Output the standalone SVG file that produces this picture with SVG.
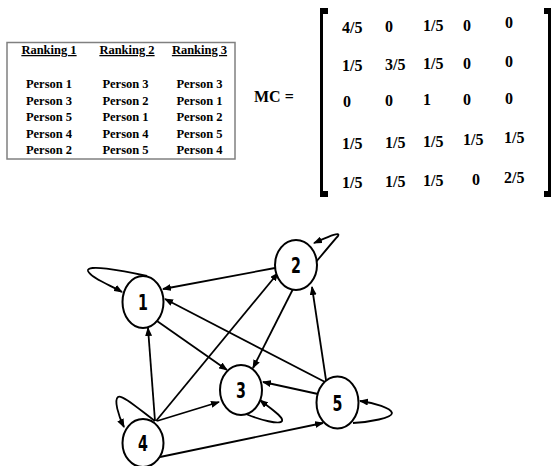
<svg xmlns="http://www.w3.org/2000/svg" width="551" height="466" viewBox="0 0 551 466">
<style>
.t{font-family:"Liberation Serif","Times New Roman",serif;font-weight:bold;font-size:12.5px;fill:#000}
.h{text-decoration:underline}
.m{font-family:"Liberation Serif","Times New Roman",serif;font-weight:bold;font-size:16px;fill:#000}
.n{fill:#fff;stroke:#000;stroke-width:2}
.l{font-family:"DejaVu Sans Condensed","DejaVu Sans",sans-serif;font-weight:bold;font-size:22px;text-anchor:middle;fill:#000}
.e{fill:none;stroke:#000;stroke-width:1.8}
</style>
<defs>
<marker id="a" markerUnits="userSpaceOnUse" markerWidth="9" markerHeight="7" refX="8" refY="3.5" orient="auto">
<path d="M0,0 L9,3.5 L0,7 z" fill="#000"/>
</marker>
</defs>
<g id="table">
<rect x="7" y="42.5" width="228" height="116.5" fill="#fff" stroke="#808080" stroke-width="1.5"/>
<g class="t" text-anchor="middle">
<text class="h" x="49" y="54">Ranking 1</text>
<text class="h" x="127" y="54">Ranking 2</text>
<text class="h" x="199.5" y="54">Ranking 3</text>
<text x="49" y="88">Person 1</text>
<text x="49" y="104.5">Person 3</text>
<text x="49" y="121">Person 5</text>
<text x="49" y="137.5">Person 4</text>
<text x="49" y="154">Person 2</text>
<text x="125.5" y="88">Person 3</text>
<text x="125.5" y="104.5">Person 2</text>
<text x="125.5" y="121">Person 1</text>
<text x="125.5" y="137.5">Person 4</text>
<text x="125.5" y="154">Person 5</text>
<text x="199.5" y="88">Person 3</text>
<text x="199.5" y="104.5">Person 1</text>
<text x="199.5" y="121">Person 2</text>
<text x="199.5" y="137.5">Person 5</text>
<text x="199.5" y="154">Person 4</text>
</g>
</g>
<g id="matrix">
<text class="m" x="254" y="102">MC =</text>
<path d="M320,8 h8 v6 h-5 v177 h5 v6 h-8 z" fill="#000"/>
<path d="M551,8 h-7 v6 h4 v177 h-4 v6 h7 z" fill="#000"/>
<g class="m">
<text x="342" y="33">4/5</text><text x="385" y="32">0</text><text x="423" y="31">1/5</text><text x="463" y="31">0</text><text x="505" y="28">0</text>
<text x="342" y="71">1/5</text><text x="385" y="70">3/5</text><text x="423" y="69">1/5</text><text x="463" y="69">0</text><text x="505" y="67">0</text>
<text x="343" y="107">0</text><text x="385" y="106">0</text><text x="423" y="105">1</text><text x="463" y="105">0</text><text x="505" y="104">0</text>
<text x="342" y="149">1/5</text><text x="385" y="148">1/5</text><text x="423" y="147">1/5</text><text x="463" y="145">1/5</text><text x="504" y="143">1/5</text>
<text x="342" y="188">1/5</text><text x="385" y="187">1/5</text><text x="423" y="186">1/5</text><text x="472" y="185">0</text><text x="504" y="183">2/5</text>
</g>
</g>
<g id="connectors">
<path class="e" marker-end="url(#a)" d="M275,268 L163,289"/>
<path class="e" marker-end="url(#a)" d="M327,383 L165,299"/>
<path class="e" marker-end="url(#a)" d="M155,421 L148,328"/>
<path class="e" marker-end="url(#a)" d="M157,321 L227,370"/>
<path class="e" marker-end="url(#a)" d="M293,289 L253,368"/>
<path class="e" marker-end="url(#a)" d="M156,421 L278,273"/>
<path class="e" marker-end="url(#a)" d="M157,421 L219,402"/>
<path class="e" marker-end="url(#a)" d="M160,457 L323,423"/>
<path class="e" marker-end="url(#a)" d="M318,394 L263,382"/>
<path class="e" marker-end="url(#a)" d="M326,380 L312,287"/>
<path class="e" marker-end="url(#a)" d="M147,276 C120,270 86,264 88,271 C91,278 110,285 122,292"/>
<path class="e" marker-end="url(#a)" d="M316,262 C326,250 336,238 338,236 C341,231 328,237 314,243"/>
<path class="e" marker-end="url(#a)" d="M246,414 C260,420 280,425 282,421 C284,417 270,408 260,400"/>
<path class="e" marker-end="url(#a)" d="M155,421 C140,410 122,394 118,397 C114,400 118,415 124,427"/>
<path class="e" marker-end="url(#a)" d="M353,423 C370,422 392,418 392,413 C391,408 375,403 360,401"/>
</g>
<g id="node1"><ellipse class="n" cx="143" cy="302" rx="20.5" ry="26"/><text class="l" transform="translate(143,310) scale(0.72,1)">1</text></g>
<g id="node2"><ellipse class="n" cx="296" cy="265" rx="21" ry="25"/><text class="l" transform="translate(296,273) scale(0.72,1)">2</text></g>
<g id="node3"><ellipse class="n" cx="241" cy="390" rx="21" ry="25"/><text class="l" transform="translate(241,398) scale(0.72,1)">3</text></g>
<g id="node4"><ellipse class="n" cx="143" cy="443" rx="20.5" ry="24"/><text class="l" transform="translate(143,451) scale(0.72,1)">4</text></g>
<g id="node5"><ellipse class="n" cx="337.5" cy="402.5" rx="21" ry="26"/><text class="l" transform="translate(337.5,410.5) scale(0.72,1)">5</text></g>
</svg>
